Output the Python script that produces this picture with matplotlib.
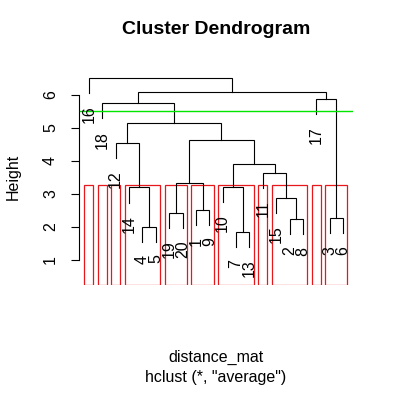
import numpy as np
import matplotlib
matplotlib.use("Agg")
import matplotlib.pyplot as plt
from matplotlib.patches import Rectangle

# hclust-style merge table: negative = leaf id, positive = earlier merge (1-based)
merge_left = [-4, -7, -2, -3, -19, -1, -15, -14, -10, 5, -11, 9, -12, 10, 13, -18, -17, 16, -16]
merge_right = [-5, -13, -8, -6, -20, -9, 3, 1, 2, 6, 7, 11, 8, 12, 14, 15, 4, 17, 18]
merge_height = [2.00, 1.85, 2.24, 2.27, 2.42, 2.52, 2.88, 3.20, 3.21, 3.33,
                3.64, 3.90, 4.55, 4.62, 5.15, 5.76, 5.88, 6.09, 6.52]
leaf_order = [16, 18, 12, 14, 4, 5, 19, 20, 1, 9, 10, 7, 13, 11, 15, 2, 8, 17, 3, 6]
n_clusters = 11
cut_height = 5.5

hang = 0.1 * (max(merge_height) - min(merge_height))
pos = {leaf: i + 1 for i, leaf in enumerate(leaf_order)}

plt.rcParams['font.family'] = ['Liberation Sans', 'DejaVu Sans']
fig = plt.figure(figsize=(3.96, 3.97), dpi=100)
ax = fig.add_axes([0.199, 0.283, 0.693, 0.541])

fs = 11.5
node_x = {}
node_y = {}


def child(c, h):
    # x of the child and the y where its vertical line stops
    if c < 0:
        x = pos[-c]
        y = h - hang
        ax.annotate(str(-c), (x, y), xytext=(0, -9), textcoords='offset points',
                    rotation=90, ha='center', va='top', fontsize=fs)
        return x, y
    return node_x[c], node_y[c]


for i, (a, b, h) in enumerate(zip(merge_left, merge_right, merge_height), start=1):
    xa, ya = child(a, h)
    xb, yb = child(b, h)
    ax.plot([xa, xa, xb, xb], [ya, h, h, yb], color='black', lw=0.8,
            solid_joinstyle='miter')
    node_x[i] = (xa + xb) / 2
    node_y[i] = h

ax.set_xlim(0.24, 20.76)
ax.set_ylim(0.24, 6.76)

# rect.hclust style boxes
members = {}
for i, (a, b) in enumerate(zip(merge_left, merge_right), start=1):
    s = []
    for c in (a, b):
        s += [-c] if c < 0 else members[c]
    members[i] = s
hs = sorted(merge_height, reverse=True)
box_top = (hs[n_clusters - 2] + hs[n_clusters - 1]) / 2
clusters = []
for leaf in leaf_order:
    assigned = None
    for i in range(1, len(merge_height) + 1):
        if merge_height[i - 1] < box_top and leaf in members[i]:
            assigned = i
    key = assigned if assigned else ('leaf', leaf)
    if not clusters or clusters[-1][0] != key:
        clusters.append([key, []])
    clusters[-1][1].append(pos[leaf])
prev_end = 0
for key, xs in clusters:
    left = prev_end + 0.66
    right = max(xs) + 0.33
    ax.add_patch(Rectangle((left, 0.24), right - left, box_top - 0.24,
                           fill=False, edgecolor='#e8171b', lw=0.9))
    prev_end = max(xs)

ax.axhline(cut_height, color='#00e600', lw=1.0)

for s in ['top', 'right', 'bottom']:
    ax.spines[s].set_visible(False)
ax.spines['left'].set_bounds(1, 6)
ax.spines['left'].set_linewidth(0.8)
ax.set_xticks([])
ax.set_yticks([1, 2, 3, 4, 5, 6])
ax.tick_params(axis='y', length=6, width=0.8, pad=9, labelsize=fs)
for t in ax.get_yticklabels():
    t.set_rotation(90)
    t.set_va('center')
ax.set_ylabel('Height', fontsize=fs, labelpad=16)

fig.text(0.545, 0.926, 'Cluster Dendrogram', ha='center', va='center',
         fontsize=14, fontweight='bold')
fig.text(0.545, 0.100, 'distance_mat', ha='center', va='center', fontsize=fs)
fig.text(0.545, 0.049, 'hclust (*, "average")', ha='center', va='center', fontsize=fs)

fig.savefig('out.png', dpi=100)
